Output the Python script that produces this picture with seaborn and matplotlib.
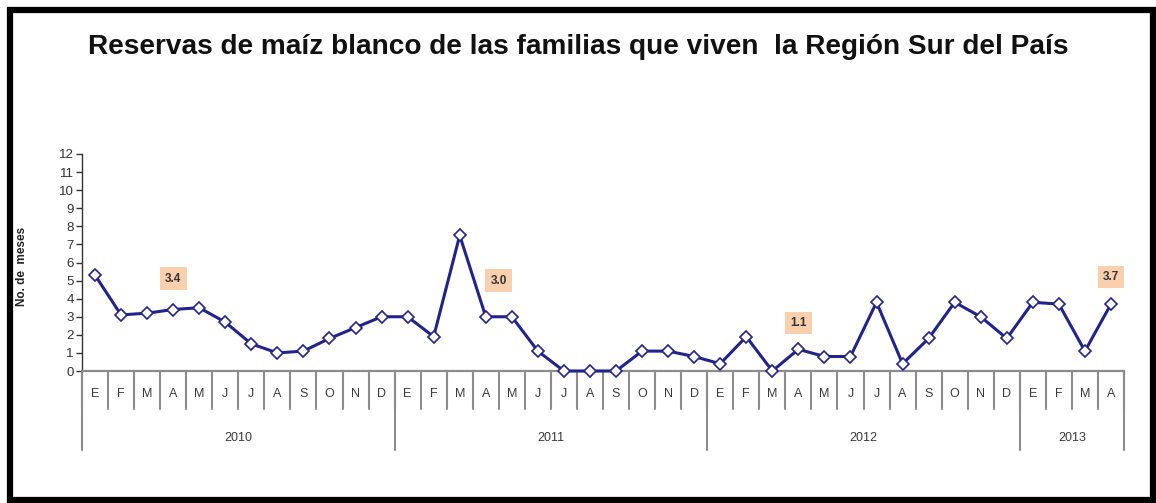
import matplotlib
matplotlib.use('Agg')
from matplotlib import pyplot as plt
from matplotlib.patches import Rectangle
from matplotlib.transforms import blended_transform_factory
import pandas as pd
import seaborn as sns

YEARS = ['2010', '2011', '2012', '2013']
MONTHS_PER_YEAR = [12, 12, 12, 4]
MONTH_LETTERS = ['E', 'F', 'M', 'A', 'M', 'J', 'J', 'A', 'S', 'O', 'N', 'D']
RESERVES = [
    5.3, 3.1, 3.2, 3.4, 3.5, 2.7, 1.5, 1.0, 1.1, 1.8, 2.4, 3.0,   # 2010
    3.0, 1.9, 7.5, 3.0, 3.0, 1.1, 0.0, 0.0, 0.0, 1.1, 1.1, 0.8,   # 2011
    0.4, 1.9, 0.0, 1.2, 0.8, 0.8, 3.8, 0.4, 1.8, 3.8, 3.0, 1.8,   # 2012
    3.8, 3.7, 1.1, 3.7,                                           # 2013
]
YEAR_AVG = ['3.4', '3.0', '1.1', '3.7']

# placement of the peach boxes (month index, y)
AVG_POS = [(3, 5.1), (15.5, 5.0), (27, 2.65), (39, 5.2)]

NAVY = '#23238c'
GRID_GRAY = '#8c8c8c'

months = [m for n in MONTHS_PER_YEAR for m in MONTH_LETTERS[:n]]
df = pd.DataFrame({'idx': range(len(RESERVES)), 'mes': months, 'meses': RESERVES})

sns.set_style('white')
plt.rcParams['font.family'] = ['Liberation Sans', 'DejaVu Sans']

fig = plt.figure(figsize=(11.56, 5.03), dpi=100)
ax = fig.add_axes([82 / 1156, 132 / 503, 1042 / 1156, 217 / 503])

sns.lineplot(data=df, x='idx', y='meses', ax=ax, color=NAVY, linewidth=2.2,
             marker='D', markersize=6, markerfacecolor='white',
             markeredgecolor=NAVY, markeredgewidth=1.2, clip_on=False, zorder=5)

ax.set_xlim(-0.5, len(RESERVES) - 0.5)
ax.set_ylim(0, 12)
ax.set_yticks(range(0, 13))
ax.tick_params(axis='y', direction='out', length=4, width=1, color='#333333',
               labelsize=9.5, labelcolor='#333333', pad=2, left=True)
ax.tick_params(axis='x', length=0, labelbottom=False)
ax.set_xlabel('')
ax.set_ylabel('')
sns.despine(ax=ax)
ax.spines['left'].set_color('#333333')
ax.spines['left'].set_linewidth(1)
ax.spines['bottom'].set_color(GRID_GRAY)
ax.spines['bottom'].set_linewidth(1.6)

trans = blended_transform_factory(ax.transData, ax.transAxes)

# month separators and letters
for i, m in enumerate(months):
    ax.plot([i - 0.5, i - 0.5], [0, -0.175], transform=trans, color=GRID_GRAY,
            lw=1.5, clip_on=False)
    ax.text(i, -0.106, m, transform=trans, ha='center', va='center',
            fontsize=9, color='#3a3a3a')
ax.plot([len(months) - 0.5] * 2, [0, -0.175], transform=trans, color=GRID_GRAY,
        lw=1.5, clip_on=False)

# year separators and labels
start = 0
for year, n in zip(YEARS, MONTHS_PER_YEAR):
    ax.plot([start - 0.5] * 2, [0, -0.364], transform=trans, color=GRID_GRAY,
            lw=1.5, clip_on=False)
    ax.text(start + n / 2 - 0.5, -0.309, year, transform=trans, ha='center',
            va='center', fontsize=9, color='#3a3a3a')
    start += n
ax.plot([start - 0.5] * 2, [0, -0.364], transform=trans, color=GRID_GRAY,
        lw=1.5, clip_on=False)

# yearly average boxes
for label, (x, y) in zip(YEAR_AVG, AVG_POS):
    ax.text(x, y, label, ha='center', va='center', fontsize=8.5,
            fontweight='bold', color='#333333',
            bbox=dict(boxstyle='square,pad=0.45', fc='#f9cfae', ec='none'))

ax.text(-0.058, 0.484, 'No. de  meses', transform=ax.transAxes, rotation=90,
        ha='center', va='center', fontsize=8.5, fontweight='bold', color='#222222')

fig.text(0.5, 0.907, 'Reservas de maíz blanco de las familias que viven  la Región Sur del País',
         ha='center', va='center', fontsize=20.2, fontweight='bold',
         color='#111111')

# black picture frame
fig.add_artist(Rectangle((9.5 / 1156, 3 / 503), 1143 / 1156, 490.5 / 503,
                         transform=fig.transFigure, fill=False, ec='black', lw=4.5))

fig.savefig('out.png', dpi=100)
